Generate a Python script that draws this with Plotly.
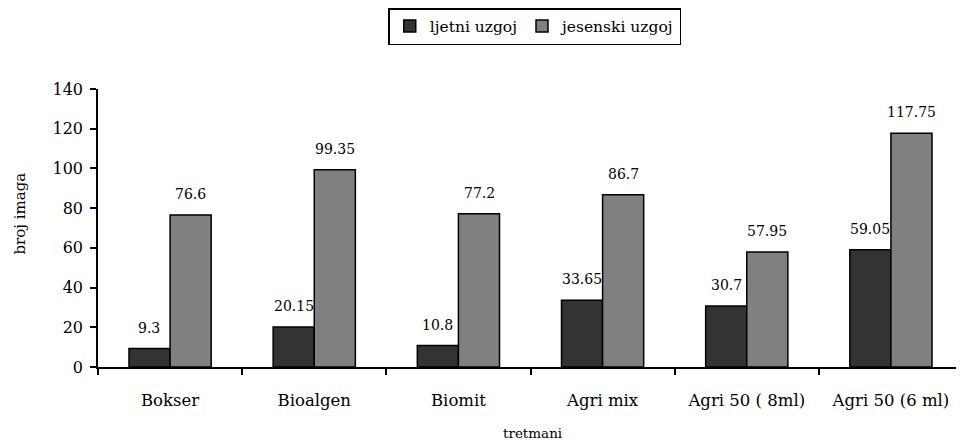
import plotly.graph_objects as go

categories = ["Bokser", "Bioalgen", "Biomit", "Agri mix", "Agri 50 ( 8ml)", "Agri 50 (6 ml)"]
ljetni = [9.3, 20.15, 10.8, 33.65, 30.7, 59.05]
jesenski = [76.6, 99.35, 77.2, 86.7, 57.95, 117.75]
ljetni_labels = ["9.3", "20.15", "10.8", "33.65", "30.7", "59.05"]
jesenski_labels = ["76.6", "99.35", "77.2", "86.7", "57.95", "117.75"]
x_title = "tretmani"
y_title = "broj imaga"

font_family = "DejaVu Serif"

fig = go.Figure()
fig.add_trace(go.Bar(
    name="ljetni uzgoj", x=categories, y=ljetni,
    marker=dict(color="#333333", line=dict(color="#000000", width=1.5)),
))
fig.add_trace(go.Bar(
    name="jesenski uzgoj", x=categories, y=jesenski,
    marker=dict(color="#808080", line=dict(color="#000000", width=1.5)),
))

bar_px = 41.3
annotations = []
for cat, v, t in zip(categories, ljetni, ljetni_labels):
    annotations.append(dict(x=cat, y=v, text=t, showarrow=False, xshift=-bar_px / 2,
                            yshift=21, yanchor="middle", xanchor="center",
                            font=dict(family=font_family, size=14, color="#000000")))
for cat, v, t in zip(categories, jesenski, jesenski_labels):
    annotations.append(dict(x=cat, y=v, text=t, showarrow=False, xshift=bar_px / 2,
                            yshift=21, yanchor="middle", xanchor="center",
                            font=dict(family=font_family, size=14, color="#000000")))
annotations.append(dict(xref="paper", yref="paper", x=0.503, y=-0.238, text=x_title,
                        showarrow=False, xanchor="center", yanchor="middle",
                        font=dict(family=font_family, size=13.5, color="#000000")))
annotations.append(dict(xref="paper", yref="paper", x=-0.0902, y=0.552, text=y_title,
                        showarrow=False, xanchor="center", yanchor="middle", textangle=-90,
                        font=dict(family=font_family, size=15, color="#000000")))

fig.update_layout(
    width=956, height=433,
    margin=dict(l=90, r=1, t=81, b=74),
    paper_bgcolor="white", plot_bgcolor="white",
    barmode="group", bargap=0.43, bargroupgap=0,
    font=dict(family=font_family, color="#000000", size=15),
    showlegend=True,
    annotations=annotations,
    legend=dict(
        orientation="h", xref="container", yref="container",
        x=0.551, y=1.0, xanchor="center", yanchor="top",
        bordercolor="#000000", borderwidth=1.5,
        font=dict(family=font_family, size=15.5),
        itemwidth=30, tracegroupgap=0,
    ),
    xaxis=dict(
        automargin=False,
        showline=True, linecolor="#000000", linewidth=1.5,
        ticks="outside", tickson="boundaries", ticklen=6, tickcolor="#000000", tickwidth=1.5,
        tickfont=dict(family=font_family, size=16.5),
        ticklabelstandoff=17,
        showgrid=False, zeroline=False,
    ),
    yaxis=dict(
        automargin=False,
        range=[0, 140], dtick=20,
        showline=True, linecolor="#000000", linewidth=1.5,
        ticks="outside", ticklen=6, tickcolor="#000000", tickwidth=1.5,
        tickfont=dict(family=font_family, size=16),
        ticklabelstandoff=4,
        showgrid=False, zeroline=False,
    ),
)

fig.write_html("out.html")
